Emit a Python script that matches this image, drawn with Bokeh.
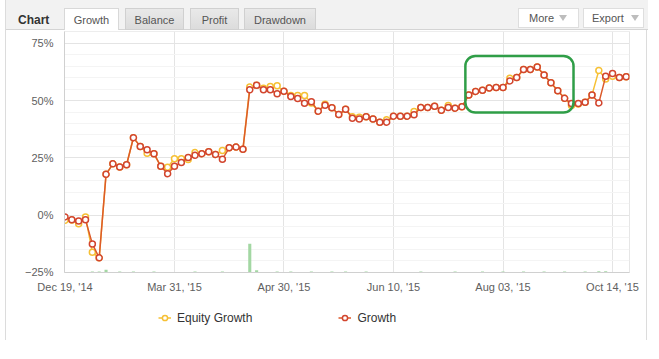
from bokeh.plotting import figure
from bokeh.models import (Range1d, FixedTicker, Legend, LegendItem, BoxAnnotation, Div,
                          ColumnDataSource)
from bokeh.layouts import column
from bokeh.embed import file_html
from bokeh.resources import INLINE

# ---------------- data ----------------
x_tick_index = [0, 16, 32, 48, 64, 80]
x_tick_labels = ["Dec 19, '14", "Mar 31, '15", "Apr 30, '15",
                 "Jun 10, '15", "Aug 03, '15", "Oct 14, '15"]
y_ticks = [-25, 0, 25, 50, 75]
y_tick_labels = ["\u221225%", "0%", "25%", "50%", "75%"]

growth = [-0.8, -2.1, -2.6, -2.1, -12.6, -18.7, 17.8, 22.4, 21.0, 22.0,
          33.8, 30.0, 28.5, 26.8, 21.3, 18.1, 21.3, 23.0, 25.1, 26.1,
          26.8, 27.7, 26.5, 24.4, 29.4, 29.7, 28.8, 54.7, 56.7, 54.7,
          54.7, 53.0, 54.1, 51.8, 50.9, 48.9, 49.5, 45.4, 48.0, 46.9,
          43.9, 46.2, 42.3, 42.0, 42.9, 42.0, 40.6, 40.6, 43.2, 43.2,
          43.2, 43.8, 47.0, 47.0, 47.5, 45.8, 47.0, 46.7, 47.3, 52.5,
          54.0, 54.5, 55.5, 55.7, 55.7, 58.6, 60.1, 63.6, 63.6, 64.7,
          61.2, 57.8, 54.3, 51.0, 48.7, 48.7, 49.3, 52.5, 49.0, 60.6,
          61.8, 60.1, 60.4]

equity = [-2.3, -2.2, -3.8, -0.8, -16.3, -18.7, 17.8, 22.4, 21.0, 22.0,
          33.8, 30.0, 27.0, 26.8, 21.3, 20.9, 24.6, 24.6, 24.3, 27.3,
          26.8, 27.7, 26.5, 28.2, 29.4, 29.7, 28.8, 55.9, 56.7, 55.4,
          56.2, 56.5, 54.1, 52.2, 52.2, 52.2, 49.0, 45.4, 48.4, 46.9,
          43.9, 46.2, 43.0, 42.7, 42.9, 42.0, 40.6, 41.6, 43.2, 43.2,
          43.2, 45.2, 47.0, 47.0, 47.5, 45.8, 47.9, 46.7, 47.3, 52.5,
          54.0, 54.5, 55.5, 55.7, 55.7, 59.8, 60.1, 63.6, 63.6, 64.7,
          61.2, 57.8, 54.3, 51.0, 47.9, 48.5, 49.3, 52.5, 63.2, 59.5,
          60.7, 60.1, 60.4]

deposit_index = [4, 5, 6, 8, 10, 13, 19, 23, 27, 28, 31, 33, 36, 39,
                 41, 44, 52, 57, 61, 64, 67, 70, 73, 76, 78, 79]
deposit_pct = [0.4, 0.4, 1.2, 0.4, 0.4, 0.4, 0.4, 0.4, 12.6, 1.0, 0.4, 0.4, 0.4, 0.4,
               0.4, 0.4, 0.4, 0.4, 0.4, 0.4, 0.4, 0.4, 0.4, 0.4, 0.6, 0.6]

series_names = ["Equity Growth", "Growth"]
tab_names = ["Growth", "Balance", "Profit", "Drawdown"]
button_names = ["More", "Export"]

idx = list(range(len(growth)))
AXIS_MIN = -25.1
AXIS_MAX = 80.2

# panel: outer border at x=5 and x=648, content 6..648
PANEL_X0 = 6
PANEL_W = 642
BORDER = {"border-left": "1px solid #dcdcdc", "border-right": "1px solid #dcdcdc"}

eq_color = "#f6c034"
gr_line_color = "#dc5a2a"
gr_mark_color = "#d2452e"

# ---------------- header (tabs) as HTML ----------------
def box(left, top, w, h, bg, border, extra=""):
    return (f'<div style="position:absolute;left:{left - PANEL_X0}px;top:{top}px;'
            f'width:{w}px;height:{h}px;box-sizing:border-box;background:{bg};'
            f'border:1px solid {border};{extra}"></div>')

def label(left, top, txt, extra=""):
    return (f'<div style="position:absolute;left:{left - PANEL_X0}px;top:{top}px;'
            f'white-space:nowrap;{extra}">{txt}</div>')

tab_geom = [(64, 55), (125, 59), (190, 49), (244, 72)]
parts = ['<div style="position:absolute;left:0;top:29px;width:100%;height:1px;'
         'background:#d4d4d4"></div>']
for (l, w), name in zip(tab_geom, tab_names):
    if name == "Growth":
        parts.append(box(l, 8, w, 23, "#ffffff", "#d8d8d8", "border-bottom:none;"))
    else:
        parts.append(box(l, 8, w, 22, "linear-gradient(#e9e9e9,#dcdcdc)", "#d0d0d0"))
    parts.append(f'<div style="position:absolute;left:{l - PANEL_X0}px;top:13px;'
                 f'width:{w}px;text-align:center;color:#555555">{name}</div>')
parts.append(label(18, 12, "Chart", "font-weight:bold;font-size:12px;color:#333333;"))
for (l, w), name in zip([(518, 61), (583, 61)], button_names):
    parts.append(box(l, 8, w, 20, "#ffffff", "#dedede"))
    parts.append(label(l + 11 if name == "More" else l + 9, 11, name, "color:#555555;"))
    tri_x = l + 45 if name == "More" else l + 52
    parts.append(f'<div style="position:absolute;left:{tri_x - PANEL_X0 - 4}px;top:15px;'
                 'width:0;height:0;border-left:4px solid transparent;'
                 'border-right:4px solid transparent;border-top:6px solid #bdbdbd"></div>')

header_html = ('<div style="position:relative;width:%dpx;height:30px;background:#f2f2f2;'
               'font-family:\'Liberation Sans\',Arial,sans-serif;font-size:11px;'
               'overflow:hidden">%s</div>' % (PANEL_W, "".join(parts)))
hdr = Div(text=header_html, width=PANEL_W, height=30, margin=(0, 0, 0, 5), styles=BORDER)

# ---------------- main chart ----------------
FRAME_L = 64 - PANEL_X0
FRAME_R = 629 - PANEL_X0
p = figure(width=PANEL_W, height=270, x_range=Range1d(-0.07, 82.48),
           y_range=Range1d(AXIS_MIN, AXIS_MAX), toolbar_location=None,
           output_backend="svg", min_border_left=FRAME_L,
           min_border_right=PANEL_W - FRAME_R, min_border_top=1, min_border_bottom=28)
p.margin = (0, 0, 0, 5)
p.styles = BORDER
p.background_fill_color = "#ffffff"
p.border_fill_color = "#ffffff"
p.outline_line_color = "#e6e6e6"

p.xaxis.ticker = FixedTicker(ticks=x_tick_index)
p.xaxis.major_label_overrides = dict(zip(x_tick_index, x_tick_labels))
p.yaxis.ticker = FixedTicker(ticks=y_ticks, minor_ticks=list(range(-25, 81, 5)))
p.yaxis.major_label_overrides = dict(zip(y_ticks, y_tick_labels))
for ax in (p.xaxis, p.yaxis):
    ax.major_tick_line_color = None
    ax.minor_tick_line_color = None
    ax.major_tick_out = 0
    ax.major_tick_in = 0
    ax.axis_line_color = "#d0d0d0"
    ax.major_label_text_font = "Liberation Sans"
    ax.major_label_text_font_size = "11px"
    ax.major_label_text_color = "#606060"
p.xaxis.major_label_standoff = 8
p.yaxis.major_label_standoff = 7

p.xgrid.ticker = FixedTicker(ticks=x_tick_index)
p.xgrid.grid_line_color = "#e4e4e4"
p.ygrid.grid_line_color = "#e4e4e4"
p.ygrid.minor_grid_line_color = "#f4f4f4"

deposit_top = [AXIS_MIN + v for v in deposit_pct]
p.vbar(x=deposit_index, width=0.45, bottom=AXIS_MIN, top=deposit_top,
       fill_color="#a3d7a3", line_color=None)

p.line(idx, equity, line_color=eq_color, line_width=1.5)
p.scatter(idx, equity, marker="circle", size=6, fill_color="white",
          line_color=eq_color, line_width=1.5)
p.line(idx, growth, line_color=gr_line_color, line_width=1.5)
p.scatter(idx, growth, marker="circle", size=6, fill_color="white",
          line_color=gr_mark_color, line_width=1.5)

p.add_layout(BoxAnnotation(left=58.5, right=74.3, bottom=44.8, top=69.5,
                           fill_alpha=0, line_color="#2f9e47", line_alpha=1,
                           line_width=2.5, border_radius=10))

# ---------------- legend strip ----------------
lg = figure(width=PANEL_W, height=40, x_range=Range1d(0, 1), y_range=Range1d(0, 1),
            toolbar_location=None, output_backend="svg", min_border_left=FRAME_L,
            min_border_right=PANEL_W - FRAME_R, min_border_top=0, min_border_bottom=0)
lg.margin = (0, 0, 0, 5)
lg.styles = BORDER
lg.axis.visible = False
lg.grid.visible = False
lg.outline_line_color = None
lg.background_fill_color = "#ffffff"
lg.border_fill_color = "#ffffff"
# one off-screen point per series so the legend has a glyph to draw
off = ColumnDataSource(data=dict(x=[-5.0], y=[-5.0]))
le_line = lg.line("x", "y", source=off, line_color=eq_color, line_width=1.5)
le_pts = lg.scatter("x", "y", source=off, marker="circle", size=6, fill_color="white",
                    line_color=eq_color, line_width=1.5)
lgr_line = lg.line("x", "y", source=off, line_color=gr_line_color, line_width=1.5)
lgr_pts = lg.scatter("x", "y", source=off, marker="circle", size=6, fill_color="white",
                     line_color=gr_mark_color, line_width=1.5)
legend = Legend(items=[LegendItem(label=series_names[0], renderers=[le_line, le_pts]),
                       LegendItem(label=series_names[1], renderers=[lgr_line, lgr_pts])],
                orientation="horizontal", location=(94, 15.5),
                glyph_width=13, glyph_height=13, label_height=13,
                label_standoff=6, spacing=86, padding=0, margin=0,
                border_line_color=None, background_fill_alpha=0,
                label_text_font="Liberation Sans", label_text_font_size="12px",
                label_text_color="#333333")
lg.add_layout(legend, "center")

layout = column(hdr, p, lg, spacing=0)
open("out.html", "w").write(file_html(layout, INLINE))
